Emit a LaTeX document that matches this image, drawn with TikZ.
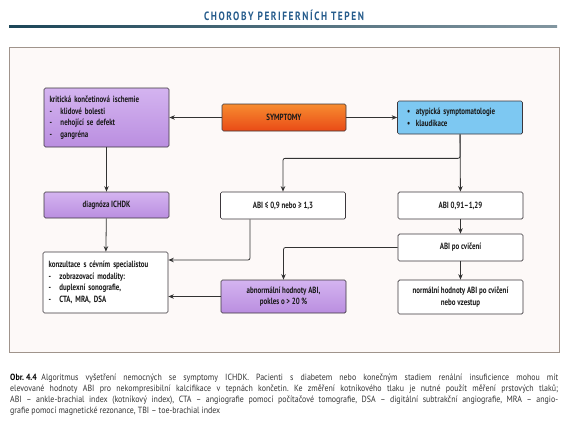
\documentclass[tikz,border=0pt]{standalone}
\usepackage{fontspec}
\setmainfont{PT Sans}
\newfontfamily\boxfont[FakeStretch=0.77]{PT Sans}
\newfontfamily\capfont[FakeStretch=0.88]{PT Sans}
\newfontfamily\headfont[FakeStretch=0.78,LetterSpace=13]{PT Sans}
\usetikzlibrary{calc,arrows.meta,positioning}

\definecolor{titleblue}{RGB}{38,92,140}
\definecolor{ruledark}{RGB}{28,70,88}
\definecolor{rulegray}{RGB}{130,150,160}
\definecolor{framecol}{RGB}{160,148,140}
\definecolor{framefill}{RGB}{253,249,248}
\definecolor{boxline}{RGB}{60,55,60}
\definecolor{lilactop}{RGB}{212,180,240}
\definecolor{lilacbot}{RGB}{186,142,224}
\definecolor{orangetop}{RGB}{247,140,48}
\definecolor{orangebot}{RGB}{233,74,22}
\definecolor{skyblue}{RGB}{125,200,242}

\newcommand{\dashitem}[1]{\makebox[11pt][l]{-}#1}
\newcommand{\dotitem}[1]{\makebox[9pt][l]{•}#1}

\begin{document}
\begin{tikzpicture}[x=1pt,y=-1pt,
	box/.style={draw=boxline, line width=0.7pt, rounded corners=1.5pt,
		minimum width=125pt, inner sep=0pt, text=black!90,
		font=\boxfont\bfseries\fontsize{9}{11.5}\selectfont},
	lilacbox/.style={box, top color=lilactop, bottom color=lilacbot},
	orangebox/.style={box, top color=orangetop, bottom color=orangebot},
	bluebox/.style={box, fill=skyblue},
	whitebox/.style={box, fill=white},
	listbox/.style={text width=114pt, inner xsep=5.5pt, align=left},
	arrow/.style={draw=black!80, line width=0.8pt, rounded corners=2pt,
		-{Stealth[length=5.5pt,width=4.5pt]}}]

	% page
	\useasboundingbox (0,0) rectangle (568,423);
	\fill[white] (0,0) rectangle (568,423);

	% header
	\node[font=\headfont\bfseries\fontsize{12}{14}\selectfont, text=titleblue]
		(title) at (284,15) {CHOROBY PERIFERNÍCH TEPEN};
	\shade[left color=ruledark, right color=rulegray] (9,25.5) rectangle (557,27.5);

	% frame
	\draw[draw=framecol, fill=framefill, line width=0.7pt] (9,47) rectangle (559,352);

	% first row
	\node[lilacbox, listbox, minimum height=59pt] (crit) at (106.5,117.5)
		{kritická končetinová ischemie\\ \dashitem{klidové bolesti}\\
		\dashitem{nehojící se defekt}\\ \dashitem{gangréna}};
	\node[orangebox, minimum width=124pt, minimum height=27pt] (sympt) at (284,117.5)
		{SYMPTOMY};
	\node[bluebox, listbox, minimum height=33pt, text width=106pt, inner xsep=9pt]
		(atyp) at (460,117.5)
		{\dotitem{atypická symptomatologie}\\ \dotitem{klaudikace}};

	% second row
	\node[lilacbox, minimum height=26pt] (diag) at (106.5,205) {diagnóza ICHDK};
	\node[whitebox, minimum height=27pt] (abiout) at (283,205.5) {ABI ≤ 0,9 nebo ≥ 1,3};
	\node[whitebox, minimum height=27pt] (abinorm) at (460.5,205.5) {ABI 0,91–1,29};

	% exercise test
	\node[whitebox, minimum height=27pt] (abiex) at (460.5,247.5) {ABI po cvičení};

	% bottom row
	\node[whitebox, listbox, minimum height=61pt] (konz) at (105.5,282.5)
		{konzultace s cévním specialistou\\ \dashitem{zobrazovací modality:}\\
		\dashitem{duplexní sonografie,}\\ \dashitem{CTA, MRA, DSA}};
	\node[lilacbox, minimum height=33pt, align=center] (abn) at (283.5,296.5)
		{abnormální hodnoty ABI,\\ pokles o > 20\,\%};
	\node[whitebox, minimum height=34pt, align=center] (norm) at (460.5,297)
		{normální hodnoty ABI po cvičení\\ nebo vzestup};

	% branch points
	\coordinate (split) at ($(atyp.south)+(0,24)$);
	\coordinate (abitap) at ($(abiout.south)+(-33,0)$);

	% connectors
	\draw[arrow] (sympt) -- (crit);
	\draw[arrow] (sympt) -- (atyp);
	\draw[arrow] (crit) -- (diag);
	\draw[arrow] (diag) -- (konz);
	\draw[arrow] (atyp) -- (abinorm);
	\draw[arrow] (atyp.south) -- (split) -| (abiout.north);
	\draw[arrow] (abitap) |- ($(konz.east)+(0,-22.5)$);
	\draw[arrow] (abn.west) -- (abn.west -| konz.east);
	\draw[arrow] (abinorm) -- (abiex);
	\draw[arrow] (abiex) -- (norm);
	\draw[arrow] (abiex.west) -| (abn.north);

	% caption
	\node[anchor=north west, inner sep=0pt, text width=548pt, align=justify,
		text=black!80, font=\capfont\fontsize{9}{11}\selectfont]
		(caption) at (10,374)
		{\tolerance=9999\frenchspacing\relax
		\mbox{\bfseries\color{black}Obr.\ 4.4}\enspace Algoritmus vyšetření nemocných se symptomy ICHDK. Pacienti s diabetem nebo konečným stadiem renální insuficience mohou mít\linebreak
		elevované hodnoty ABI pro nekompresibilní kalcifikace v tepnách končetin. Ke změření kotníkového tlaku je nutné použít měření prstových tlaků;\linebreak
		ABI – ankle-brachial index (kotníkový index), CTA – angiografie pomocí počítačové tomografie, DSA – digitální subtrakční angiografie, MRA – angio-\linebreak
		grafie pomocí magnetické rezonance, TBI – toe-brachial index};

\end{tikzpicture}
\end{document}
